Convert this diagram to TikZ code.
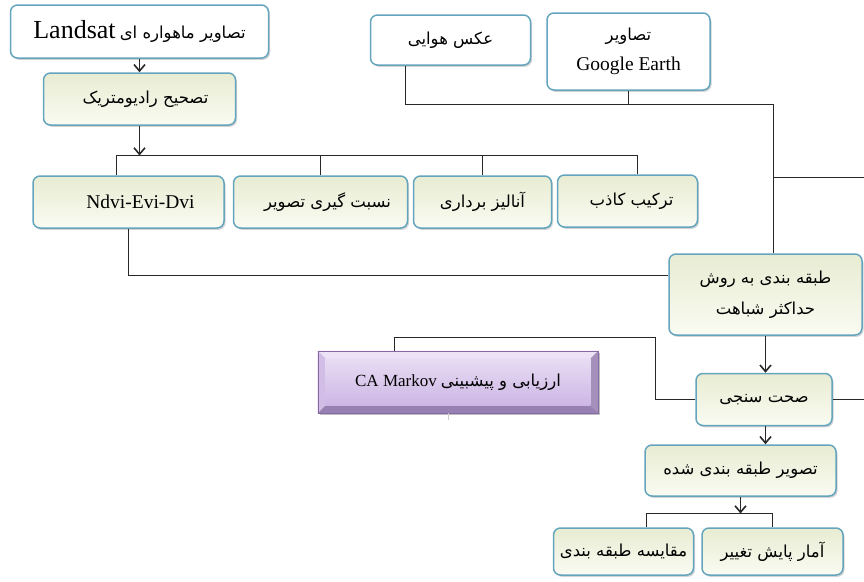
\documentclass[tikz,border=0pt]{standalone}
\usepackage{fontspec}
\setmainfont{Liberation Serif}
\newfontfamily\arabicfont[Script=Arabic]{DejaVu Sans}
\TeXXeTstate=1
\usetikzlibrary{arrows.meta,shadows,calc}
\newcommand\prs[1]{{\arabicfont\beginR #1\endR}}
\definecolor{bdr}{RGB}{100,165,190}
\definecolor{creamT}{RGB}{232,236,210}
\definecolor{creamB}{RGB}{250,251,242}
\definecolor{lnc}{RGB}{40,40,40}
\definecolor{purT}{RGB}{232,220,244}
\definecolor{purB}{RGB}{205,182,228}
\definecolor{purD}{RGB}{135,105,165}
\pgfdeclarelayer{bg}
\pgfsetlayers{bg,main}
\begin{document}
\begin{tikzpicture}[x=1pt,y=-1pt,
  box/.style={rounded corners=7pt, draw=bdr, line width=1.5pt,
    drop shadow={shadow xshift=1.5pt,shadow yshift=-1.8pt,opacity=.35},
    inner sep=0pt, align=center, font=\fontsize{16.5}{31}\selectfont},
  cream/.style={box, top color=creamT, bottom color=creamB},
  whitebox/.style={box, fill=white},
  conn/.style={draw=lnc, line width=1.8pt},
  arr/.style={conn, -{Straight Barb[length=6.5pt,width=11pt,line width=1.6pt]}}]
\useasboundingbox (0,0) rectangle (864,581);

% nodes
\node[whitebox, minimum width=258pt, minimum height=53pt] (landsat) at (139.5,31.5)
  {{\fontsize{26}{28}\selectfont Landsat} \prs{تصاویر ماهواره ای}};
\node[cream, minimum width=192pt, minimum height=52pt] (radio) at (139.5,99) {\hspace*{12pt}\prs{تصحیح رادیومتریک}};
\node[cream, minimum width=191pt, minimum height=52pt] (ndvi) at (128.5,202) {\hspace*{24pt}{\fontsize{19.5}{22}\selectfont Ndvi-Evi-Dvi}};
\node[cream, minimum width=174pt, minimum height=52pt] (nesbat) at (320.5,202) {\hspace*{14pt}\prs{نسبت گیری تصویر}};
\node[cream, minimum width=138pt, minimum height=52pt] (anal) at (482.5,202) {\prs{آنالیز برداری}};
\node[cream, minimum width=140pt, minimum height=52pt] (tark) at (627.5,201) {\hspace*{8pt}\prs{ترکیب کاذب}};
\node[whitebox, minimum width=160pt, minimum height=50pt] (aks) at (450.5,40) {\prs{عکس هوایی}};
\node[whitebox, minimum width=163pt, minimum height=77pt] (google) at (628.5,51.5)
  {\prs{تصاویر}\\[-1pt]{\fontsize{19.5}{22}\selectfont Google Earth}};
\node[cream, minimum width=193pt, minimum height=81pt] (tabaghe) at (765.5,294.5)
  {\prs{طبقه بندی به روش}\\\prs{حداکثر شباهت}};
\node[cream, minimum width=136pt, minimum height=52pt] (sehat) at (764,399.5) {\prs{صحت سنجی}};
\node[draw=purD, line width=0.8pt, minimum width=280pt, minimum height=62pt, inner sep=0pt,
  font=\fontsize{16.5}{21}\selectfont] (markov) at (458,382)
  {{\fontsize{17}{20}\selectfont CA Markov} \prs{ارزیابی و پیشبینی}};
\node[cream, minimum width=191pt, minimum height=51pt] (tasvir) at (740.5,470.5) {\prs{تصویر طبقه بندی شده}};
\node[cream, minimum width=140pt, minimum height=47pt] (moghayese) at (623.5,551.5) {\prs{مقایسه طبقه بندی}};
\node[cream, minimum width=141pt, minimum height=47pt] (amar) at (772.5,551.5) {\prs{آمار پایش تغییر}};

% purple bevel
\begin{pgfonlayer}{bg}
  \coordinate (mo1) at (markov.north west);
  \coordinate (mo2) at (markov.north east);
  \coordinate (mo3) at (markov.south east);
  \coordinate (mo4) at (markov.south west);
  \coordinate (mi1) at ($(mo1)+(8,8)$);
  \coordinate (mi2) at ($(mo2)+(-8,8)$);
  \coordinate (mi3) at ($(mo3)+(-8,-8)$);
  \coordinate (mi4) at ($(mo4)+(8,-8)$);
  \fill[black, opacity=.25] ($(mo1)+(2,2)$) rectangle ($(mo3)+(2,2)$);
  \fill[purT!80!white] (mo1) -- (mo2) -- (mi2) -- (mi1) -- cycle;
  \fill[purB!90!white] (mo1) -- (mi1) -- (mi4) -- (mo4) -- cycle;
  \fill[purD!75!white] (mo2) -- (mo3) -- (mi3) -- (mi2) -- cycle;
  \fill[purD!85!white] (mo4) -- (mi4) -- (mi3) -- (mo3) -- cycle;
  \shade[top color=purT, bottom color=purB] (mi1) rectangle (mi3);
\end{pgfonlayer}

% connectors
\coordinate (bus1) at (139.5,155.5);
\coordinate (jn) at (773.5,104.5);
\coordinate (e1) at (864,177.5);
\coordinate (e2) at (864,399.5);
\coordinate (kinkA) at (655.5,337.5);
\coordinate (bus2) at (740.5,513.5);

\draw[arr] (landsat.south) -- (radio.north);
\draw[arr] (radio.south) -- (bus1);
\draw[conn] ([xshift=-12pt]ndvi.north) |- (bus1);
\draw[conn] (nesbat.north) |- (bus1);
\draw[conn] (anal.north) |- (bus1);
\draw[conn] ([xshift=10pt]tark.north) |- (bus1);
\draw[conn] (ndvi.south) |- ([yshift=19pt]tabaghe.west);
\draw[conn] ([xshift=-45pt]aks.south) |- (jn) -- ([xshift=8pt]tabaghe.north);
\draw[conn] (google.south) |- (jn);
\draw[conn] (jn |- e1) -- (e1);
\draw[arr] (tabaghe.south) -- (tabaghe.south |- sehat.north);
\draw[conn] (sehat.east) -- (e2);
\draw[conn] (sehat.west) -| (kinkA) -| ([xshift=-63.5pt]markov.north);
\draw[draw=gray!40, line width=1pt] ([xshift=-10pt]markov.south) -- ++(0,7);
\draw[arr] ([xshift=1.5pt]sehat.south) -- ([xshift=25pt]tasvir.north);
\draw[arr] (tasvir.south) -- (bus2);
\draw[conn] ([xshift=23pt]moghayese.north) |- (bus2);
\draw[conn] (amar.north) |- (bus2);
\end{tikzpicture}
\end{document}
